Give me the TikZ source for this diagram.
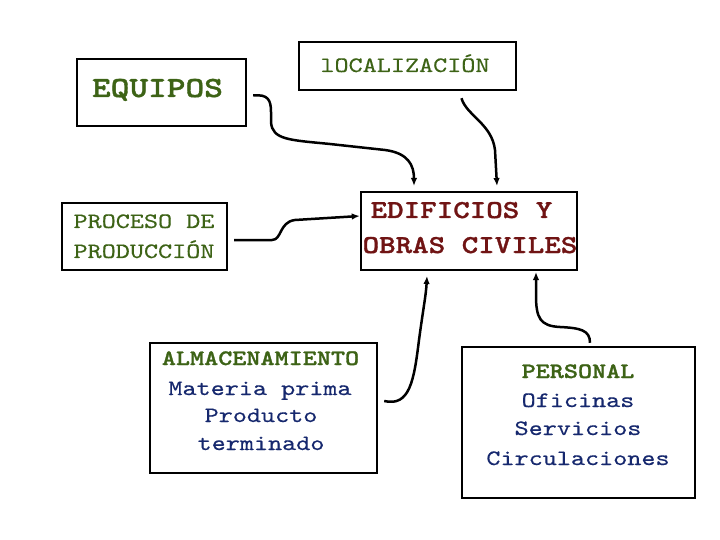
\documentclass[tikz,border=0pt]{standalone}
\usepackage{fontspec}
\newfontfamily\cour{lmmono10-regular.otf}[BoldFont=lmmonolt10-bold.otf, FakeStretch=1.22, UprightFeatures={FakeBold=0.4}, BoldFeatures={FakeBold=1.2}]
\usetikzlibrary{arrows.meta}
\definecolor{olivetxt}{RGB}{61,99,22}
\definecolor{redtxt}{RGB}{112,20,20}
\definecolor{bluetxt}{RGB}{22,40,110}
\tikzset{
  frame/.style={draw=black, line width=2.4pt, fill=white, inner sep=0pt},
  txt/.style={anchor=base, inner sep=0pt},
  regular/.style={font=\cour\fontsize{22}{26}\selectfont},
  boldf/.style={font=\cour\bfseries\fontsize{22}{26}\selectfont},
  conn/.style={draw=black, line width=2.5pt, -{Latex[length=8pt,width=6.5pt]}},
}
\begin{document}
\begin{tikzpicture}[x=1pt,y=-1pt]
\useasboundingbox[fill=white] (0,0) rectangle (720,540);
% boxes
\node[frame, minimum width=169, minimum height=67] (equipos) at (161.5,92.5) {};
\node[frame, minimum width=217, minimum height=48] (local) at (407.5,66) {};
\node[frame, minimum width=165, minimum height=67] (proceso) at (144.5,236.5) {};
\node[frame, minimum width=216, minimum height=78] (edif) at (469,231) {};
\node[frame, minimum width=227, minimum height=130] (almac) at (263.5,408) {};
\node[frame, minimum width=233, minimum height=151] (personal) at (578.5,422.5) {};
% texts
\node[txt, text=olivetxt, font=\cour\bfseries\fontsize{29.2}{34}\selectfont] (equiposT) at (157.5,97) {EQUIPOS};
\node[txt, regular, text=olivetxt] (localT) at (405,72) {lOCALIZACIÓN};
\node[txt, regular, text=olivetxt] (procT1) at (144,228) {PROCESO DE};
\node[txt, regular, text=olivetxt] (procT2) at (144,258) {PRODUCCIÓN};
\node[txt, text=redtxt, font=\cour\bfseries\fontsize{25.8}{30}\selectfont] (edifT1) at (461.5,218) {EDIFICIOS Y};
\node[txt, text=redtxt, font=\cour\bfseries\fontsize{25.8}{30}\selectfont] (edifT2) at (470,253) {OBRAS CIVILES};
\node[txt, boldf, text=olivetxt] (almT1) at (260.5,365) {ALMACENAMIENTO};
\node[txt, regular, text=bluetxt] (almT2) at (260,395) {Materia prima};
\node[txt, regular, text=bluetxt] (almT3) at (261,422) {Producto};
\node[txt, regular, text=bluetxt] (almT4) at (261,450) {terminado};
\node[txt, boldf, text=olivetxt] (perT1) at (578,378) {PERSONAL};
\node[txt, regular, text=bluetxt] (perT2) at (578,407) {Oficinas};
\node[txt, regular, text=bluetxt] (perT3) at (578,435) {Servicios};
\node[txt, regular, text=bluetxt] (perT4) at (578,465) {Circulaciones};
% connector end points
\coordinate (s1) at ([xshift=6,yshift=-3]equipos.east);
\coordinate (e1) at (414,186);
\coordinate (s2) at ([xshift=54,yshift=-7]local.south);
\coordinate (e2) at (497,186);
\coordinate (s3) at ([xshift=6,yshift=-3.5]proceso.east);
\coordinate (e3) at ([yshift=15]edif.west);
\coordinate (s4) at ([xshift=6,yshift=7]almac.east);
\coordinate (e4) at (427,276);
\coordinate (s5) at ([xshift=11.5,yshift=3]personal.north);
\coordinate (e5) at (536,272);
% connectors
\draw[conn] (s1) .. controls (268,94) and (271,100) .. (271,112) -- (271,122)
  .. controls (272,140) and (290,140) .. (330,144) -- (385,150)
  .. controls (408,153) and (414,165) .. (e1);
\draw[conn] (s2) .. controls (466,115) and (492,124) .. (495,150) -- (e2);
\draw[conn] (s3) -- (272,240) .. controls (282,240) and (279,222) .. (295,220) -- (e3);
\draw[conn] (s4) .. controls (410,407) and (414,380) .. (419,340)
  .. controls (423,310) and (426,295) .. (e4);
\draw[conn] (s5) .. controls (590,330) and (580,328) .. (560,327)
  .. controls (540,326) and (536,318) .. (536,295) -- (e5);
\end{tikzpicture}
\end{document}
